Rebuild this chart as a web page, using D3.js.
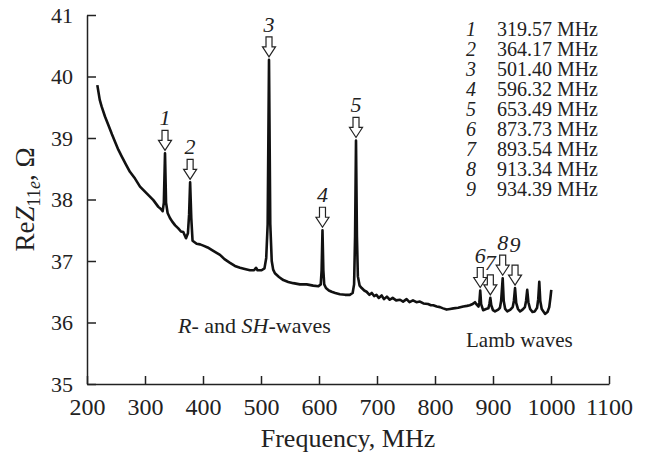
<!DOCTYPE html>
<html>
<head>
<meta charset="utf-8">
<script src="https://cdn.jsdelivr.net/npm/d3@7"></script>
<style>
  body { margin: 0; background: #fff; }
  svg { font-family: "Liberation Serif", "Times New Roman", serif; }
</style>
</head>
<body>
<div id="chart"></div>
<script>
// spectrum: frequency (MHz) and Re Z11e (Ohm)
var freq = [217.8, 222, 225.3, 231, 236.8, 243, 248.3, 254, 259.8, 267, 274, 282.8, 291.4, 302.9, 314.4, 323, 328, 330.5,
    332.5, 334.5, 336.3, 339, 343, 347, 352, 357.4, 362, 366, 370.7, 374, 376, 377.8, 379.8, 382, 389, 395, 400.5, 408,
    414.9, 422, 429.3, 437, 446.6, 455, 463.8, 472, 481, 488, 491.4, 494, 501, 506, 509, 511.5, 513.8, 516, 518.5, 521,
    524, 531, 538.5, 547, 555.7, 567, 578.7, 590, 599, 603, 604.5, 606, 607.5, 609, 612, 617, 621.8, 628, 636, 645, 653,
    658, 660.5, 662.2, 663.8, 665.4, 667, 670, 673.6, 678, 682, 687, 691, 695, 699, 703, 708, 712, 717, 722, 727, 733,
    739.7, 745, 751, 756, 762, 768, 774, 780, 788, 793, 797, 803, 808.6, 814, 820, 826, 831.6, 840, 848.8, 855, 860, 865,
    869, 872, 875, 876.5, 878, 879.5, 883, 888, 892, 893.8, 895.4, 897, 900, 903.4, 909, 912, 914, 916.7, 918.5, 921,
    924.7, 930, 934, 936, 938, 940, 943, 946.6, 951, 955, 957, 959, 961, 964, 968, 972, 976, 978, 979.8, 981.5, 984,
    989.7, 994, 997, 999, 1000.5];
var rez = [39.86, 39.62, 39.51, 39.35, 39.21, 39.06, 38.94, 38.81, 38.70, 38.57, 38.45, 38.34, 38.21, 38.10, 37.99, 37.88, 37.84, 37.81,
    37.95, 38.75, 37.95, 37.78, 37.70, 37.64, 37.58, 37.53, 37.48, 37.47, 37.37, 37.45, 37.75, 38.28, 37.70, 37.33, 37.28, 37.27, 37.25, 37.22,
    37.18, 37.14, 37.10, 37.03, 36.97, 36.92, 36.89, 36.87, 36.85, 36.85, 36.89, 36.85, 36.85, 36.88, 37.05, 37.6, 40.27, 37.6, 37.0, 36.86,
    36.80, 36.74, 36.69, 36.66, 36.64, 36.62, 36.62, 36.60, 36.59, 36.62, 36.85, 37.50, 36.85, 36.62, 36.56, 36.52, 36.50, 36.48, 36.46, 36.45, 36.45,
    36.48, 36.62, 37.4, 38.96, 37.4, 36.75, 36.60, 36.56, 36.52, 36.50, 36.45, 36.48, 36.43, 36.45, 36.40, 36.44, 36.38, 36.42, 36.37, 36.40, 36.36,
    36.37, 36.34, 36.38, 36.33, 36.36, 36.33, 36.34, 36.31, 36.30, 36.28, 36.28, 36.26, 36.25, 36.23, 36.21, 36.22, 36.23, 36.24, 36.26, 36.27, 36.28, 36.30,
    36.33, 36.29, 36.26, 36.33, 36.52, 36.30, 36.20, 36.22, 36.23, 36.30, 36.40, 36.28, 36.20, 36.18, 36.21, 36.24, 36.35, 36.72, 36.35, 36.22,
    36.18, 36.21, 36.25, 36.35, 36.56, 36.32, 36.22, 36.18, 36.21, 36.25, 36.35, 36.53, 36.33, 36.22, 36.17, 36.18, 36.24, 36.38, 36.66, 36.35, 36.22,
    36.14, 36.17, 36.25, 36.40, 36.53];

// marked peaks (where the arrows point) and the list in the corner
var peakFreq = [334.5, 377.8, 513.8, 606, 663.8, 878, 895.4, 916.7, 938];
var peakNames = ["1", "2", "3", "4", "5", "6", "7", "8", "9"];
var peakValues = ["319.57 MHz", "364.17 MHz", "501.40 MHz", "596.32 MHz", "653.49 MHz",
    "873.73 MHz", "893.54 MHz", "913.34 MHz", "934.39 MHz"];

var xTicks = [200, 300, 400, 500, 600, 700, 800, 900, 1000, 1100];
var yTicks = [35, 36, 37, 38, 39, 40, 41];

var width = 647, height = 457;
var margin = {top: 15, right: 38, bottom: 73, left: 87};

var svg = d3.select("#chart").append("svg")
    .attr("width", width)
    .attr("height", height);

var x = d3.scaleLinear().domain([200, 1100]).range([margin.left, width - margin.right]);
var y = d3.scaleLinear().domain([35, 41]).range([height - margin.bottom, margin.top]);

// axes, ticks pointing inward
var xAxis = svg.append("g")
    .attr("transform", "translate(0," + y(35) + ")")
    .call(d3.axisBottom(x).tickValues(xTicks).tickFormat(d3.format("d"))
        .tickSizeInner(-8).tickSizeOuter(0).tickPadding(14));
var yAxis = svg.append("g")
    .attr("transform", "translate(" + x(200) + ",0)")
    .call(d3.axisLeft(y).tickValues(yTicks).tickFormat(d3.format("d"))
        .tickSizeInner(-9).tickSizeOuter(0).tickPadding(14));

[xAxis, yAxis].forEach(function(ax) {
    ax.select(".domain").attr("stroke", "#222").attr("stroke-width", 1.5);
    ax.selectAll(".tick line").attr("stroke", "#222").attr("stroke-width", 1.5);
    ax.selectAll(".tick text").attr("fill", "#222").attr("font-family", "Liberation Serif, serif");
});
xAxis.selectAll(".tick text").attr("font-size", 24);
yAxis.selectAll(".tick text").attr("font-size", 22);

// axis titles
svg.append("text")
    .attr("x", x(650)).attr("y", 447)
    .attr("text-anchor", "middle")
    .attr("font-size", 26)
    .attr("fill", "#222")
    .text("Frequency, MHz");

var ytitle = svg.append("text")
    .attr("transform", "translate(34," + y(38) + ") rotate(-90)")
    .attr("text-anchor", "middle")
    .attr("font-size", 27)
    .attr("fill", "#222");
ytitle.append("tspan").text("Re");
ytitle.append("tspan").attr("font-style", "italic").text("Z");
ytitle.append("tspan").attr("font-size", 18).attr("dy", 6).text("11");
ytitle.append("tspan").attr("font-size", 18).attr("font-style", "italic").text("e");
ytitle.append("tspan").attr("dy", -6).text(", Ω");

// the spectrum
var pts = freq.map(function(f, i) { return [f, rez[i]]; });
var line = d3.line()
    .x(d => x(d[0]))
    .y(d => y(d[1]));
svg.append("path")
    .datum(pts)
    .attr("fill", "none")
    .attr("stroke", "#111")
    .attr("stroke-width", 2.6)
    .attr("stroke-linejoin", "round")
    .attr("d", line);

// hollow arrows over the peaks
function peakTop(f) {
    var best = -Infinity;
    freq.forEach(function(g, i) { if (Math.abs(g - f) < 1) best = Math.max(best, rez[i]); });
    return best;
}
var arrows = svg.append("g");
peakFreq.forEach(function(f, i) {
    var px = x(f), tip = y(peakTop(f)) - 3;
    var top = tip - 20;
    var p = "M" + (px - 3) + "," + top + "H" + (px + 3) + "V" + (tip - 10) + "H" + (px + 6.5) +
        "L" + px + "," + tip + "L" + (px - 6.5) + "," + (tip - 10) + "H" + (px - 3) + "Z";
    arrows.append("path")
        .attr("d", p)
        .attr("fill", "#fff")
        .attr("stroke", "#222")
        .attr("stroke-width", 1.2);
    arrows.append("text")
        .attr("x", px)
        .attr("y", top - 5 - (i === 8 ? 8 : 0))
        .attr("text-anchor", "middle")
        .attr("font-size", 22)
        .attr("font-style", "italic")
        .attr("fill", "#222")
        .text(peakNames[i]);
});

// list of resonance frequencies
var legend = svg.append("g");
peakNames.forEach(function(n, i) {
    var by = 36 + i * 20;
    legend.append("text")
        .attr("x", 476).attr("y", by)
        .attr("text-anchor", "end")
        .attr("font-size", 20)
        .attr("font-style", "italic")
        .attr("fill", "#222")
        .text(n);
    legend.append("text")
        .attr("x", 598).attr("y", by)
        .attr("text-anchor", "end")
        .attr("font-size", 20)
        .attr("fill", "#222")
        .text(peakValues[i]);
});

// region notes
var note1 = svg.append("text")
    .attr("x", 178).attr("y", 333)
    .attr("font-size", 22)
    .attr("fill", "#222");
note1.append("tspan").attr("font-style", "italic").text("R");
note1.append("tspan").text("- and ");
note1.append("tspan").attr("font-style", "italic").text("SH");
note1.append("tspan").text("-waves");

svg.append("text")
    .attr("x", 466).attr("y", 347)
    .attr("font-size", 21)
    .attr("fill", "#222")
    .text("Lamb waves");
</script>
</body>
</html>
